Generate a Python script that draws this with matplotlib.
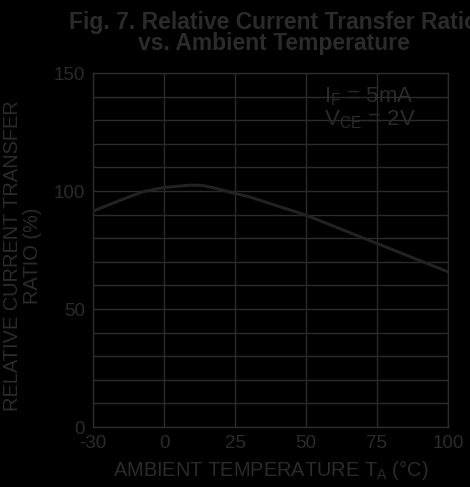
import numpy as np
import matplotlib
matplotlib.use("Agg")
import matplotlib.pyplot as plt

# curve
temp_c = [-30, -17.5, -9, 0, 9, 13.5, 18, 25, 30, 50, 75, 100]
ctr_pct = [91.5, 96.5, 99.7, 101.5, 102.5, 102.4, 101.2, 99.0, 97.6, 89.8, 77.8, 65.8]

x_ticks = [-30, 0, 25, 50, 75, 100]
y_ticks = [0, 50, 100, 150]

fg = '#2b2b2b'
plt.rcParams['font.family'] = ['Liberation Sans', 'DejaVu Sans']
plt.rcParams['axes.unicode_minus'] = False


# the -30..0 span is drawn narrower than the 25 degree steps
def fwd(x):
    x = np.asarray(x, dtype=float)
    return np.where(x < 0, x * 25.0 / 30.0, x)


def inv(y):
    y = np.asarray(y, dtype=float)
    return np.where(y < 0, y * 30.0 / 25.0, y)


fig = plt.figure(figsize=(4.70, 4.87), dpi=100, facecolor='black')
ax = fig.add_axes([0.198, 0.123, 0.755, 0.727], facecolor='black')
ax.set_xscale('function', functions=(fwd, inv))

ax.plot(temp_c, ctr_pct, color='#222222', lw=2.2, zorder=3)

ax.set_xlim(-30, 100)
ax.set_ylim(0, 150)
ax.set_xticks(x_ticks)
ax.set_yticks(y_ticks)
ax.set_yticks(np.arange(0, 151, 10), minor=True)
ax.xaxis.set_minor_locator(matplotlib.ticker.NullLocator())
ax.grid(True, which='both', color=fg, lw=1.0)
ax.tick_params(which='both', length=0, colors=fg, labelsize=13.5)
ax.tick_params(axis='x', pad=6)
ax.tick_params(axis='y', pad=6)
for s in ax.spines.values():
    s.set_color(fg)
    s.set_linewidth(1.0)

ax.set_xlabel('AMBIENT TEMPERATURE T$_\\mathregular{A}$ (°C)', color=fg, fontsize=14.4, labelpad=4)
ax.set_ylabel('RELATIVE CURRENT TRANSFER\nRATIO (%)', color=fg, fontsize=14.4, labelpad=4,
              linespacing=1.05)
ax.yaxis.set_label_coords(-0.145, 0.485)

ax.text(0.65, 0.965, 'I$_\\mathregular{F}$ = 5mA\nV$_\\mathregular{CE}$ = 2V', transform=ax.transAxes,
        color=fg, fontsize=16, va='top', ha='left', linespacing=1.0)

fig.text(0.582, 0.978, 'Fig. 7. Relative Current Transfer Ratio\nvs. Ambient Temperature',
         color=fg, fontsize=16.5, fontweight='bold', ha='center', va='top', linespacing=0.92)

fig.savefig('out.png', dpi=100, facecolor='black')
